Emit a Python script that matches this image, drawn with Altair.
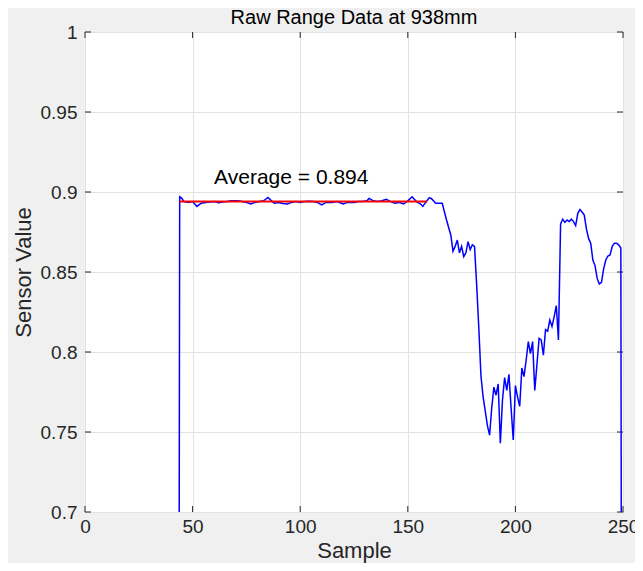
import altair as alt
import pandas as pd

# Blue raw sensor trace (sample index, sensor value)
sample = [43, 44, 45, 46, 48, 50, 52, 54, 56, 58, 60, 62, 64, 66, 68, 71, 73, 75, 77, 79,
          81, 83, 85, 87, 88, 90, 92, 94, 96, 98, 100, 102, 104, 106, 108, 110, 112, 115, 117, 120,
          122, 125, 127, 129, 131, 132, 134, 136, 138, 140, 142, 144, 146, 148, 150, 152, 154, 156, 157, 158,
          160, 161, 163, 166, 168, 170, 171, 172, 173, 174, 175, 176, 177, 178, 179, 180, 181, 182, 183, 184,
          185, 186, 187, 188, 189, 190, 191, 192, 193, 194, 195, 196, 197, 198, 199, 200, 201, 202, 203, 204,
          205, 206, 207, 208, 209, 210, 211, 212, 213, 214, 215, 216, 217, 218, 219, 220, 221, 222, 223, 224,
          225, 226, 227, 228, 229, 230, 231, 232, 233, 234, 235, 236, 237, 238, 239, 240, 241, 242, 243, 244,
          245, 246, 247, 248, 249, 250]
value = [0.0, 0.897, 0.896, 0.894, 0.8935, 0.894, 0.891, 0.893, 0.8935, 0.8938, 0.894, 0.8933, 0.8938, 0.894, 0.8945, 0.8945, 0.894, 0.8935, 0.8925, 0.8935,
         0.894, 0.8945, 0.8966, 0.894, 0.893, 0.8935, 0.8928, 0.8925, 0.8935, 0.894, 0.8935, 0.894, 0.8942, 0.894, 0.8935, 0.892, 0.8935, 0.8935, 0.894, 0.8925,
         0.8935, 0.8935, 0.894, 0.894, 0.8945, 0.896, 0.8945, 0.894, 0.8945, 0.8955, 0.894, 0.893, 0.8935, 0.8925, 0.8945, 0.897, 0.894, 0.8925, 0.891, 0.893,
         0.8965, 0.8958, 0.893, 0.893, 0.8825, 0.873, 0.863, 0.866, 0.870, 0.862, 0.866, 0.8596, 0.862, 0.869, 0.864, 0.867, 0.866, 0.842, 0.815, 0.785,
         0.772, 0.763, 0.754, 0.748, 0.765, 0.778, 0.773, 0.780, 0.743, 0.770, 0.784, 0.776, 0.786, 0.765, 0.745, 0.779, 0.772, 0.766, 0.790, 0.7846,
         0.795, 0.8065, 0.799, 0.8065, 0.776, 0.792, 0.8085, 0.8075, 0.798, 0.814, 0.813, 0.820, 0.816, 0.822, 0.829, 0.8075, 0.880, 0.883, 0.881, 0.8825,
         0.8815, 0.883, 0.8815, 0.879, 0.8867, 0.889, 0.8875, 0.8856, 0.877, 0.871, 0.868, 0.8575, 0.854, 0.846, 0.8425, 0.8435, 0.852, 0.8575, 0.860, 0.8606,
         0.866, 0.868, 0.868, 0.867, 0.865, 0.0]

# Red average line
avg_x = [44, 159]
avg_y = [0.894, 0.894]
avg_label = "Average = 0.894"
avg_label_x = [60]
avg_label_y = [0.909]

x_ticks = [0, 50, 100, 150, 200, 250]
y_ticks = [0.7, 0.75, 0.8, 0.85, 0.9, 0.95, 1.0]

W, H = 538, 480
FONT = "Liberation Sans"
BOX = "#262626"

df = pd.DataFrame({"sample": sample, "value": value})
df_avg = pd.DataFrame({"sample": avg_x, "value": avg_y})
df_txt = pd.DataFrame({"sample": avg_label_x, "value": avg_label_y, "label": [avg_label]})
df_xt = pd.DataFrame({"sample": x_ticks})
df_yt = pd.DataFrame({"value": y_ticks})

xs = alt.Scale(domain=[0, 250], nice=False, zero=False)
ys = alt.Scale(domain=[0.7, 1.0], nice=False, zero=False)

xaxis = alt.Axis(values=x_ticks, format="d", grid=True, gridColor="#e3e3e3", gridWidth=1,
                 ticks=False, domain=False, labelFontSize=19, labelPadding=5,
                 labelColor=BOX, titleColor=BOX, titleFontSize=22, titleFontWeight="normal",
                 titlePadding=4, labelFont=FONT, titleFont=FONT, labelFlush=False)
yaxis = alt.Axis(values=y_ticks, format=".2~f", grid=True, gridColor="#e3e3e3", gridWidth=1,
                 ticks=False, domain=False, labelFontSize=19, labelPadding=8,
                 labelColor=BOX, titleColor=BOX, titleFontSize=22, titleFontWeight="normal",
                 titlePadding=5, labelFont=FONT, titleFont=FONT, labelFlush=False)

X = alt.X("sample:Q", scale=xs, axis=xaxis, title="Sample")
Y = alt.Y("value:Q", scale=ys, axis=yaxis, title="Sensor Value")

line = alt.Chart(df).mark_line(color="#0000ff", strokeWidth=1.5, clip=True).encode(x=X, y=Y)
avg = alt.Chart(df_avg).mark_line(color="#ff0000", strokeWidth=2).encode(x=X, y=Y)
txt = alt.Chart(df_txt).mark_text(align="left", baseline="middle", fontSize=21, font=FONT,
                                   color="#000000").encode(x=X, y=Y, text="label:N")

tick_top = alt.Chart(df_xt).mark_rule(color=BOX, strokeWidth=1).encode(x=X, y=alt.value(0), y2=alt.value(6))
tick_bot = alt.Chart(df_xt).mark_rule(color=BOX, strokeWidth=1).encode(x=X, y=alt.value(H - 6), y2=alt.value(H))
tick_left = alt.Chart(df_yt).mark_rule(color=BOX, strokeWidth=1).encode(y=Y, x=alt.value(0), x2=alt.value(6))
tick_right = alt.Chart(df_yt).mark_rule(color=BOX, strokeWidth=1).encode(y=Y, x=alt.value(W - 6), x2=alt.value(W))

chart = alt.layer(tick_top, tick_bot, tick_left, tick_right, line, avg, txt).properties(
    width=W, height=H,
    title=alt.TitleParams("Raw Range Data at 938mm", fontSize=20, fontWeight="normal", font=FONT,
                          color="#000000", anchor="middle", frame="group", offset=-5),
    background="#f0f0f0",
    padding={"left": 77, "top": 24, "right": 12, "bottom": 51},
    autosize=alt.AutoSizeParams(type="none"),
).configure_view(stroke=BOX, strokeWidth=1, fill="white")

chart.save("out.html", embed_options={"renderer": "svg", "actions": False})
